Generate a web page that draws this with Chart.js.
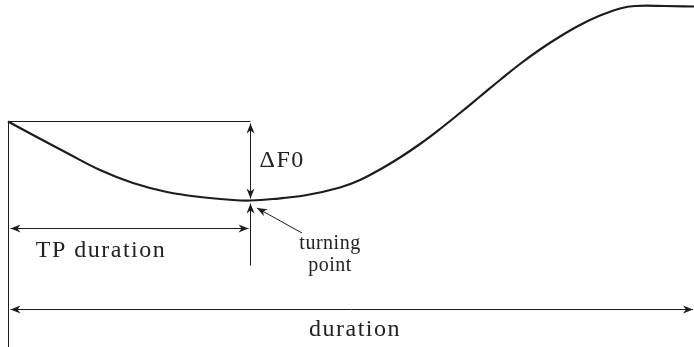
<!DOCTYPE html>
<html>
<head>
<meta charset="utf-8">
<script src="https://cdn.jsdelivr.net/npm/chart.js@4/dist/chart.umd.min.js"></script>
<style>
  html, body { margin: 0; padding: 0; background: #fff; }
  #wrap { width: 694px; height: 347px; }
</style>
</head>
<body>
<div id="wrap"><canvas id="contour" width="694" height="347"></canvas></div>
<script>
// F0 contour (time, F0 in plot units)
const times = [8, 33, 67, 100, 133, 167, 200, 233, 250, 273, 307, 340, 360, 380, 400, 420, 440, 460, 480, 500, 520, 540, 560, 580, 600, 620, 635, 665, 694];
const f0 = [225.5, 212, 194, 177, 164, 155, 150, 147, 146.5, 148, 152, 159.5, 167, 177.5, 189.5, 203, 218, 234, 250.5, 267, 283, 297.5, 310.5, 322, 331.5, 338.5, 341, 341, 340.5];

const labelDelta = 'ΔF0';
const labelTP = 'TP duration';
const labelTurn = ['turning', 'point'];
const labelDur = 'duration';

const ink = '#1c1c1c';
const serif = "'Liberation Serif', 'DejaVu Serif', serif";

// turning point = lowest F0 value
const tpIndex = f0.indexOf(Math.min(...f0));

function arrowHead(ctx, x1, y1, x2, y2) {
    const a = Math.atan2(y2 - y1, x2 - x1);
    const len = 10, half = 4, notch = 7;
    ctx.save();
    ctx.translate(x2, y2);
    ctx.rotate(a);
    ctx.beginPath();
    ctx.moveTo(0, 0);
    ctx.lineTo(-len, -half);
    ctx.lineTo(-notch, 0);
    ctx.lineTo(-len, half);
    ctx.closePath();
    ctx.fill();
    ctx.restore();
}

function line(ctx, x1, y1, x2, y2) {
    ctx.beginPath();
    ctx.moveTo(x1, y1);
    ctx.lineTo(x2, y2);
    ctx.stroke();
}

function arrow(ctx, x1, y1, x2, y2, both) {
    line(ctx, x1, y1, x2, y2);
    arrowHead(ctx, x1, y1, x2, y2);
    if (both) arrowHead(ctx, x2, y2, x1, y1);
}

const annotationPlugin = {
    id: 'annotationPlugin',
    afterDatasetsDraw(chart) {
        const ctx = chart.ctx;
        const xs = chart.scales.x, ys = chart.scales.y;
        const x0 = Math.round(xs.getPixelForValue(times[0])) + 0.5;
        const yStart = ys.getPixelForValue(f0[0]);
        const xTP = Math.round(xs.getPixelForValue(times[tpIndex])) + 0.5;
        const yTP = ys.getPixelForValue(f0[tpIndex]);
        const xEnd = xs.getPixelForValue(times[times.length - 1]);

        ctx.save();
        ctx.strokeStyle = ink;
        ctx.fillStyle = ink;
        ctx.lineWidth = 1;

        // reference lines from the onset
        line(ctx, x0, yStart, xTP, yStart);
        line(ctx, x0, yStart, x0, chart.height);

        // ΔF0
        arrow(ctx, xTP, yStart + 2, xTP, yTP - 2, true);

        // pointer up to the turning point
        arrow(ctx, xTP, yTP + 65, xTP, yTP + 3, false);
        arrow(ctx, 302, 233, 257, 208, false);

        // TP duration and total duration
        const yTPd = Math.round(yTP) + 27.5;
        arrow(ctx, x0 + 2, yTPd, xTP - 2, yTPd, true);
        const yDur = Math.round(yTP) + 108.5;
        arrow(ctx, x0 + 2, yDur, xEnd - 1, yDur, true);

        // labels
        ctx.fillStyle = '#222';
        ctx.textBaseline = 'alphabetic';
        ctx.font = '24px ' + serif;
        ctx.letterSpacing = '1.5px';
        ctx.textAlign = 'left';
        ctx.fillText(labelDelta, xTP + 9, 167);
        ctx.textAlign = 'center';
        ctx.fillText(labelTP, 101, 257);
        ctx.fillText(labelDur, 355, 336);
        ctx.font = '20px ' + serif;
        ctx.letterSpacing = '0.5px';
        ctx.fillText(labelTurn[0], 330, 249);
        ctx.fillText(labelTurn[1], 330, 271);
        ctx.restore();
    }
};

new Chart(document.getElementById('contour'), {
    type: 'line',
    data: {
        datasets: [{
            data: times.map((t, i) => ({ x: t, y: f0[i] })),
            borderColor: ink,
            borderWidth: 2.2,
            pointRadius: 0,
            fill: false,
            tension: 0.4
        }]
    },
    options: {
        responsive: false,
        animation: false,
        layout: { padding: 0 },
        plugins: {
            legend: { display: false },
            tooltip: { enabled: false }
        },
        scales: {
            x: { type: 'linear', display: false, min: 0, max: 694 },
            y: { type: 'linear', display: false, min: 0, max: 347 }
        }
    },
    plugins: [annotationPlugin]
});
</script>
</body>
</html>
